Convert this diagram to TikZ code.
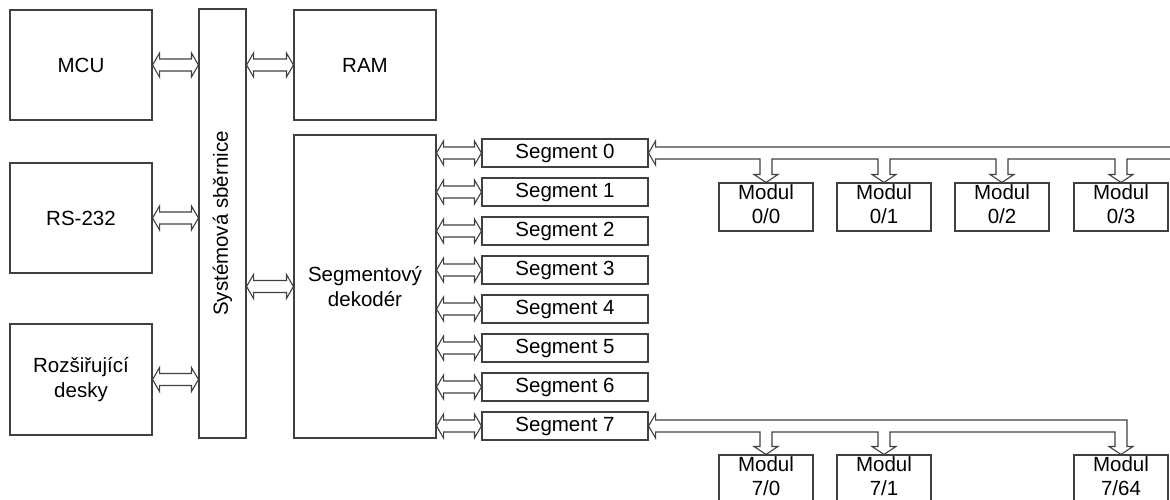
\documentclass[tikz,border=0pt]{standalone}
\usepackage{fontspec}
\setmainfont{Liberation Sans}
\usetikzlibrary{calc}
\tikzset{
 txt/.style={font=\fontsize{20.5}{25}\selectfont, text=black},
 box/.style={draw=black!75, line width=1.1pt, inner sep=0pt, align=center, txt},
 modbox/.style={box, minimum width=94, minimum height=48, font=\fontsize{20.5}{24}\selectfont, text height=39, text depth=7},
 line/.style={draw=black!75, line width=1.1pt, line join=miter},
}
\newcommand{\dblarrow}[2]{\draw[line] (#1) -- ++(7,-12) -- ++(0,6) -- ($(#2)+(-7,-6)$) -- ++(0,-6) -- (#2) -- ++(-7,12) -- ++(0,-6) -- ($(#1)+(7,6)$) -- ++(0,6) -- cycle;}
\begin{document}
\begin{tikzpicture}[x=1pt,y=-1pt]
\useasboundingbox (0,0) rectangle (1170,499);
% left column
\node[box, minimum width=142, minimum height=110] (mcu) at (81,65) {MCU};
\node[box, minimum width=142, minimum height=110] (rs) at (81,218) {RS-232};
\node[box, minimum width=142, minimum height=111] (roz) at (81,379.5) {Rozšiřující\\desky};
% bus
\node[box, minimum width=47, minimum height=429] (bus) at (222.5,223.5) {};
\node[txt, rotate=90] (busl) at (bus.center) {Systémová sběrnice};
% RAM and decoder
\node[box, minimum width=142, minimum height=110] (ram) at (365,65) {RAM};
\node[box, minimum width=142, minimum height=303] (dec) at (365,286.5) {Segmentový\\dekodér};
% segments
\foreach \i in {0,...,7} {
  \node[box, minimum width=166, minimum height=28] (s\i) at (565,{153+39*\i}) {Segment \i};
}
% modules
\node[modbox] (m00) at (766,207) {Modul\\0/0};
\node[modbox] (m01) at (884,207) {Modul\\0/1};
\node[modbox] (m02) at (1002,207) {Modul\\0/2};
\node[modbox] (m03) at (1121,207) {Modul\\0/3};
\node[modbox] (m70) at (766,479) {Modul\\7/0};
\node[modbox] (m71) at (884,479) {Modul\\7/1};
\node[modbox] (m72) at (1121,479) {Modul\\7/64};
\foreach \m in {m00,m01,m02,m03,m70,m71,m72} {
  \coordinate (\m-l) at ($(\m.north)+(-6,0)$);
  \coordinate (\m-r) at ($(\m.north)+(6,0)$);
}
% double arrows
\dblarrow{mcu.east}{mcu.east -| bus.west}
\dblarrow{rs.east}{rs.east -| bus.west}
\dblarrow{roz.east}{roz.east -| bus.west}
\dblarrow{bus.east |- ram.west}{ram.west}
\dblarrow{bus.east |- dec.west}{dec.west}
\foreach \i in {0,...,7} {\dblarrow{dec.east |- s\i.west}{s\i.west}}
% segment 0 tree
\coordinate (edge) at (1170,0);
\coordinate (U0) at ($(s0.east)+(7,-6)$);
\coordinate (L0) at ($(s0.east)+(7,6)$);
\draw[line] (U0 -| edge) -- (U0) -- ++(0,-6) -- (s0.east) -- ++(7,12) -- (L0)
 -- (L0 -| m00-l) -- ($(m00-l)+(0,-8)$) -- ($(m00.north)+(-12,-8)$) -- (m00.north) -- ($(m00.north)+(12,-8)$) -- ($(m00-r)+(0,-8)$) -- (m00-r |- L0)
 -- (L0 -| m01-l) -- ($(m01-l)+(0,-8)$) -- ($(m01.north)+(-12,-8)$) -- (m01.north) -- ($(m01.north)+(12,-8)$) -- ($(m01-r)+(0,-8)$) -- (m01-r |- L0)
 -- (L0 -| m02-l) -- ($(m02-l)+(0,-8)$) -- ($(m02.north)+(-12,-8)$) -- (m02.north) -- ($(m02.north)+(12,-8)$) -- ($(m02-r)+(0,-8)$) -- (m02-r |- L0)
 -- (L0 -| m03-l) -- ($(m03-l)+(0,-8)$) -- ($(m03.north)+(-12,-8)$) -- (m03.north) -- ($(m03.north)+(12,-8)$) -- ($(m03-r)+(0,-8)$) -- (m03-r |- L0)
 -- (L0 -| edge);
% segment 7 tree
\coordinate (U7) at ($(s7.east)+(7,-6)$);
\coordinate (L7) at ($(s7.east)+(7,6)$);
\draw[line] (s7.east) -- ++(7,-12) -- (U7) -- (U7 -| m72-r)
 -- ($(m72-r)+(0,-8)$) -- ($(m72.north)+(12,-8)$) -- (m72.north) -- ($(m72.north)+(-12,-8)$) -- ($(m72-l)+(0,-8)$) -- (m72-l |- L7)
 -- (L7 -| m71-r) -- ($(m71-r)+(0,-8)$) -- ($(m71.north)+(12,-8)$) -- (m71.north) -- ($(m71.north)+(-12,-8)$) -- ($(m71-l)+(0,-8)$) -- (m71-l |- L7)
 -- (L7 -| m70-r) -- ($(m70-r)+(0,-8)$) -- ($(m70.north)+(12,-8)$) -- (m70.north) -- ($(m70.north)+(-12,-8)$) -- ($(m70-l)+(0,-8)$) -- (m70-l |- L7)
 -- (L7) -- ++(0,6) -- cycle;
\end{tikzpicture}
\end{document}
